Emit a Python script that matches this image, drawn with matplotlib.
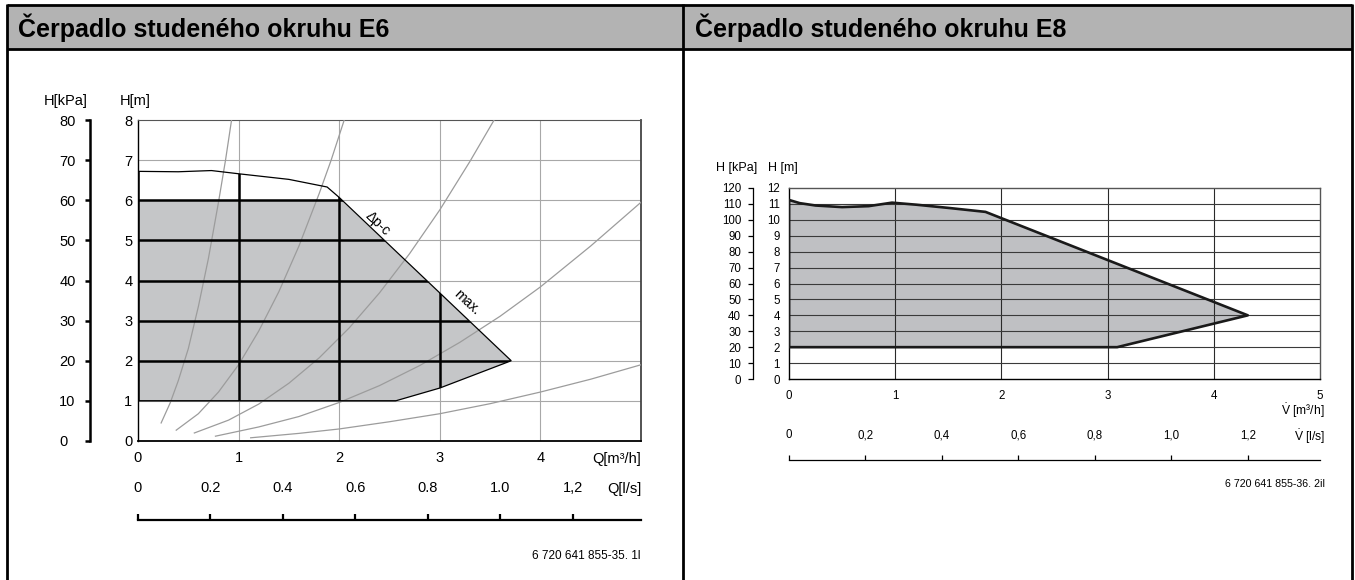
import matplotlib
matplotlib.use("Agg")
import matplotlib.pyplot as plt
from matplotlib.patches import Polygon, Rectangle

plt.rcParams['font.family'] = ['Liberation Sans', 'DejaVu Sans']
plt.rcParams['mathtext.fontset'] = 'custom'
plt.rcParams['mathtext.rm'] = 'Liberation Sans'
plt.rcParams['mathtext.it'] = 'Liberation Sans'

W, H = 1355, 580

# ---------------- E6 data ----------------
e6_q_ticks = [0, 1, 2, 3, 4]
e6_h_ticks = [0, 1, 2, 3, 4, 5, 6, 7, 8]
e6_kpa_ticks = [0, 10, 20, 30, 40, 50, 60, 70, 80]
e6_ls_ticks = [0, 0.2, 0.4, 0.6, 0.8, 1.0, 1.2]
e6_ls_labels = ['0', '0.2', '0.4', '0.6', '0.8', '1.0', '1,2']

# outer pump curve (max + dp-c + bottom limit)
e6_max_q = [0, 0.4, 0.73, 1.0, 1.5, 1.88, 2.0, 3.71, 3.0, 2.56, 0]
e6_max_h = [6.72, 6.71, 6.74, 6.66, 6.52, 6.33, 6.07, 2.0, 1.32, 1.0, 1.0]
# grey working area
e6_fill_q = [0, 0, 2.02, 3.71, 3.0, 2.56]
e6_fill_h = [1.0, 6.0, 6.0, 2.0, 1.32, 1.0]

# system curves
sys_curves = [
    ([0.23, 0.32, 0.4, 0.5, 0.6, 0.7, 0.8, 0.87, 0.93],
     [0.45, 0.95, 1.5, 2.3, 3.35, 4.55, 5.95, 7.0, 8.0]),
    ([0.38, 0.6, 0.8, 1.0, 1.2, 1.4, 1.6, 1.8, 1.92, 2.05],
     [0.27, 0.68, 1.22, 1.9, 2.74, 3.72, 4.86, 6.16, 7.0, 8.0]),
    ([0.56, 0.9, 1.2, 1.5, 1.8, 2.1, 2.4, 2.7, 3.0, 3.3, 3.54],
     [0.2, 0.52, 0.92, 1.44, 2.07, 2.82, 3.69, 4.67, 5.76, 6.97, 8.0]),
    ([0.77, 1.2, 1.6, 2.0, 2.4, 2.8, 3.2, 3.6, 4.0, 4.5, 5.0],
     [0.12, 0.35, 0.61, 0.96, 1.38, 1.88, 2.46, 3.11, 3.84, 4.86, 5.95]),
    ([1.12, 1.6, 2.0, 2.5, 3.0, 3.5, 4.0, 4.5, 5.0],
     [0.08, 0.19, 0.3, 0.48, 0.68, 0.93, 1.22, 1.54, 1.9]),
]

# ---------------- E8 data ----------------
e8_v_ticks = [0, 1, 2, 3, 4, 5]
e8_h_ticks = list(range(0, 13))
e8_kpa_ticks = list(range(0, 130, 10))
e8_ls_ticks = [0, 0.2, 0.4, 0.6, 0.8, 1.0, 1.2]
e8_ls_labels = ['0', '0,2', '0,4', '0,6', '0,8', '1,0', '1,2']

e8_q = [0, 0.1, 0.25, 0.5, 0.75, 0.97, 1.2, 1.5, 1.85, 4.32, 3.09, 0]
e8_h = [11.25, 11.05, 10.9, 10.8, 10.86, 11.08, 10.95, 10.75, 10.5, 4.0, 2.0, 2.0]


def px_axes(fig, x0, y0, x1, y1):
    return fig.add_axes([x0 / W, 1 - y1 / H, (x1 - x0) / W, (y1 - y0) / H])


fig = plt.figure(figsize=(W / 100, H / 100), dpi=100)

# frame + header
ov = fig.add_axes([0, 0, 1, 1])
ov.set_xlim(0, W)
ov.set_ylim(H, 0)
ov.axis('off')
ov.add_patch(Rectangle((7, 5), 1345, 44, fc='#b3b3b3', ec='none'))
for y in [5, 49]:
    ov.plot([7, 1352], [y, y], color='black', lw=2.0, solid_capstyle='butt')
for x in [7, 683, 1352]:
    ov.plot([x, x], [4, 580], color='black', lw=2.0, solid_capstyle='butt')
ov.text(18, 28, 'Čerpadlo studeného okruhu E6', fontsize=18, fontweight='bold', va='center')
ov.text(695, 28, 'Čerpadlo studeného okruhu E8', fontsize=18, fontweight='bold', va='center')

# ---------------- E6 chart ----------------
ax = px_axes(fig, 138, 120, 641, 441)
ax.set_xlim(0, 5)
ax.set_ylim(0, 8)
for q in [1, 2, 3, 4]:
    ax.axvline(q, color='#a8a8a8', lw=0.8, zorder=1)
for h in range(1, 8):
    ax.axhline(h, color='#a8a8a8', lw=0.8, zorder=1)
ax.fill(e6_fill_q, e6_fill_h, color='#c5c6c8', lw=0, zorder=2)
for cq, ch in sys_curves:
    ax.plot(cq, ch, color='#9c9c9c', lw=0.9, zorder=3)
outer = Polygon(list(zip(e6_max_q, e6_max_h)), closed=True, fc='none',
                ec='black', lw=0.9, zorder=5)
ax.add_patch(outer)
for h in range(1, 7):
    ln = ax.axhline(h, color='black', lw=1.8, zorder=4)
    ln.set_clip_path(outer)
for q in range(0, 4):
    ln = ax.axvline(q, color='black', lw=1.8, zorder=4)
    ln.set_clip_path(outer)
ax.text(2.38, 5.43, 'Δp-c', rotation=-43, ha='center', va='center', fontsize=10)
ax.text(3.27, 3.45, 'max.', rotation=-43, ha='center', va='center', fontsize=10)

ax.spines['top'].set_color('#555555')
ax.spines['top'].set_linewidth(0.8)
ax.spines['right'].set_color('#444444')
ax.spines['right'].set_linewidth(1.3)
ax.spines['bottom'].set_linewidth(1.3)
ax.spines['left'].set_linewidth(1.0)
ax.set_xticks(e6_q_ticks)
ax.set_yticks(e6_h_ticks)
ax.tick_params(axis='x', length=0, labelsize=10.5, pad=7)
ax.tick_params(axis='y', length=0, labelsize=10.5, pad=4)

sk = ax.secondary_yaxis(-48 / 503, functions=(lambda m: m * 10, lambda k: k / 10))
sk.set_yticks(e6_kpa_ticks)
sk.spines['left'].set_linewidth(1.8)
sk.tick_params(axis='y', length=3.6, width=1.8, labelsize=10.5, pad=18.5)
for t in sk.get_yticklabels():
    t.set_horizontalalignment('left')

sl = ax.secondary_xaxis(-79 / 321, functions=(lambda q: q / 3.6, lambda l: l * 3.6))
sl.set_alignment('top')
sl.set_xticks(e6_ls_ticks, labels=e6_ls_labels)
sl.spines['top'].set_linewidth(1.6)
sl.tick_params(axis='x', length=4, width=1.6, labelsize=10.5, pad=14)

ov.text(66, 101, 'H[kPa]', fontsize=10.5, ha='center', va='center')
ov.text(120, 101, 'H[m]', fontsize=10.5, ha='left', va='center')
ov.text(641, 459, 'Q[m³/h]', fontsize=10.5, ha='right', va='center')
ov.text(641, 489, 'Q[l/s]', fontsize=10.5, ha='right', va='center')
ov.text(641, 556, '6 720 641 855-35. 1l', fontsize=8.5, ha='right', va='center')

# ---------------- E8 chart ----------------
ax8 = px_axes(fig, 789, 188, 1320, 379)
ax8.set_xlim(0, 5)
ax8.set_ylim(0, 12)
ax8.fill(e8_q, e8_h, color='#bfc0c3', lw=0, zorder=1)
for v in [1, 2, 3, 4]:
    ax8.axvline(v, color='#2a2a2a', lw=0.8, zorder=2)
for h in range(1, 12):
    ax8.axhline(h, color='#3a3a3a', lw=0.8, zorder=2)
ax8.add_patch(Polygon(list(zip(e8_q, e8_h)), closed=True, fc='none',
                      ec='#1a1a1a', lw=1.9, zorder=4, joinstyle='round'))
for s in ['top', 'right']:
    ax8.spines[s].set_color('#555555')
    ax8.spines[s].set_linewidth(1.0)
ax8.spines['left'].set_linewidth(1.0)
ax8.spines['bottom'].set_linewidth(1.0)
ax8.set_xticks(e8_v_ticks)
ax8.set_yticks(e8_h_ticks)
ax8.tick_params(axis='x', length=0, labelsize=8.3, pad=8)
ax8.tick_params(axis='y', length=0, labelsize=8.3, pad=6.5)

sk8 = ax8.secondary_yaxis(-36 / 531, functions=(lambda m: m * 10, lambda k: k / 10))
sk8.set_yticks(e8_kpa_ticks)
sk8.spines['left'].set_linewidth(0.9)
sk8.tick_params(axis='y', length=3.5, width=0.9, labelsize=8.3, pad=5)

sl8 = ax8.secondary_xaxis(-81 / 191, functions=(lambda q: q / 3.6, lambda l: l * 3.6))
sl8.set_alignment('top')
sl8.set_xticks(e8_ls_ticks, labels=e8_ls_labels)
sl8.spines['top'].set_linewidth(0.9)
sl8.tick_params(axis='x', length=3.5, width=0.9, labelsize=8.3, pad=10)

ov.text(737, 168, 'H [kPa]', fontsize=9, ha='center', va='center')
ov.text(768, 168, 'H [m]', fontsize=9, ha='left', va='center')
ov.text(1325, 411, r'$\dot{\mathrm{V}}$ [m³/h]', fontsize=8.7, ha='right', va='center')
ov.text(1325, 437, r'$\dot{\mathrm{V}}$ [l/s]', fontsize=8.7, ha='right', va='center')
ov.text(1325, 484, '6 720 641 855-36. 2il', fontsize=7.7, ha='right', va='center')

fig.savefig('out.png', dpi=100)
